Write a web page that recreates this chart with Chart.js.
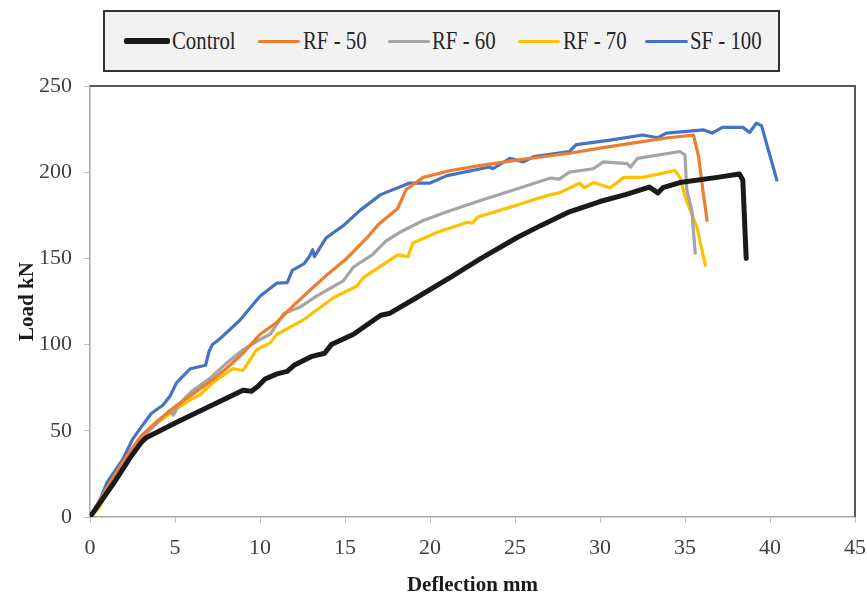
<!DOCTYPE html>
<html>
<head>
<meta charset="utf-8">
<script src="https://cdn.jsdelivr.net/npm/chart.js@4/dist/chart.umd.min.js"></script>
<style>
  html, body { margin: 0; padding: 0; background: #fff; }
  #wrap { position: relative; width: 867px; height: 602px; }
  #legend { position: absolute; left: 103px; top: 10px; width: 673px; height: 58px;
            border: 2px solid #333; background: #f2f2f2; }
  .ln { position: absolute; border-radius: 2px; }
  .tx { position: absolute; font-family: "Liberation Serif", serif; font-size: 26px; color: #262626;
        transform: scaleX(0.8); transform-origin: left center; white-space: nowrap; line-height: 30px; }
</style>
</head>
<body>
<div id="wrap">
  <canvas id="c" width="867" height="602"></canvas>
  <div id="legend"></div>
</div>
<script>
// ---- data (deflection mm, load kN) ----
const seriesNames = ["Control", "RF - 50", "RF - 60", "RF - 70", "SF - 100"];
const xTicks = [0, 5, 10, 15, 20, 25, 30, 35, 40, 45];
const yTicks = [0, 50, 100, 150, 200, 250];

const controlX = [0, 1.4, 2.4, 3.0, 3.3, 5.1, 7.2, 9.0, 9.5, 9.9, 10.3, 11.0, 11.6, 12.0, 13.0, 13.8, 14.2, 15.5, 17.1, 17.6, 19.0, 21.2, 23.0, 25.1, 26.5, 28.2, 30.0, 31.5, 32.9, 33.4, 33.7, 34.7, 36.9, 38.2, 38.4, 38.6];
const controlY = [0, 19.7, 35, 43, 46, 55, 65, 73.5, 73, 76, 80, 83, 84.5, 88, 93, 95, 100, 106, 117, 118, 126, 139, 150, 162, 169, 177, 183, 187, 191.4, 188, 191, 194, 197, 199, 195.5, 150];

const rf50X = [0, 1, 2, 3, 4, 5, 6, 7, 8, 9, 10, 11, 11.9, 13.1, 14, 15.1, 16.3, 17, 18.1, 18.6, 19.6, 21.2, 23, 25.1, 28.2, 30, 32, 34, 35.5, 35.8, 36.1, 36.3];
const rf50Y = [0, 17, 33, 47, 56, 64, 71, 78, 86, 95, 106, 113, 122, 133, 141, 150, 162, 170, 179, 190, 197, 201, 204, 207, 211, 214, 217, 220, 221.5, 209, 186, 172];

const rf60X = [0, 1, 2, 3, 4, 4.7, 4.9, 5.2, 6, 7, 8, 9, 10, 10.6, 11.4, 12.4, 13.3, 14.9, 15.5, 16.6, 17.4, 18.2, 19.6, 21, 23.1, 25, 27.1, 27.6, 28.2, 29.6, 30.2, 31.6, 31.8, 32.2, 34.7, 35.0, 35.1, 35.4, 35.6];
const rf60Y = [0, 17, 32, 46, 55, 62, 59, 65, 73, 80, 89, 97, 103, 106, 118, 122, 128, 137, 145, 152, 160, 165, 172, 177, 184, 190, 196.6, 196, 200, 202, 206, 205, 203, 208, 212, 210, 190, 178, 153];

const rf70X = [0, 0.5, 1, 2, 3, 4, 5, 5.9, 6.5, 6.9, 7.5, 8.4, 9.0, 9.8, 10.6, 11.0, 12.5, 14.3, 15.7, 16.1, 18.1, 18.7, 19.0, 20.4, 22.2, 22.5, 22.8, 24.5, 26.1, 27.1, 27.6, 28.8, 29.1, 29.6, 30.6, 31.4, 32.5, 33.5, 34.4, 34.7, 35.0, 35.7, 36.2];
const rf70Y = [0, 5, 14, 30, 45, 55, 62, 68, 71, 75, 80, 86, 85, 97, 101, 106, 114, 127, 134, 139, 152, 151, 159, 165, 171, 170.5, 174, 179, 184, 187, 188, 193.6, 191, 194, 191, 197, 197, 199, 201, 197, 186, 168, 146];

const sf100X = [0, 0.5, 1, 1.9, 2.5, 3, 3.6, 4.3, 4.7, 5.1, 5.9, 6.8, 7.0, 7.2, 7.6, 8.8, 10, 11, 11.6, 11.9, 12.6, 12.9, 13.1, 13.2, 13.9, 14.9, 15.9, 17.1, 18.8, 20, 21, 23.5, 23.7, 24.7, 25.5, 26.1, 28.2, 28.6, 30.5, 32.5, 33.4, 33.9, 36.1, 36.6, 37.2, 38.4, 38.8, 39.2, 39.5, 39.9, 40.4];
const sf100Y = [0, 8, 20, 33, 45, 52, 60, 65, 70, 78, 86, 88, 96, 100, 103, 114, 128, 135.7, 136, 143, 147, 151, 155, 151, 162, 169, 178, 187, 193.7, 193.7, 198, 203, 202, 208, 206, 209, 212, 216, 218.5, 221.6, 220, 222.7, 224.5, 222.7, 226, 226, 223, 228.5, 227, 213, 195.5];

const seriesColors = ["#1a1a1a", "#ED7D31", "#A5A5A5", "#FFC000", "#4472C4"];
const seriesWidths = [5, 3.2, 3.2, 3.2, 3.2];

const toPts = (xs, ys) => xs.map((x, i) => ({x: x, y: ys[i]}));
const allX = [controlX, rf50X, rf60X, rf70X, sf100X];
const allY = [controlY, rf50Y, rf60Y, rf70Y, sf100Y];

// ---- legend (HTML) ----
const legendPos = [[124, 170, 172], [258, 300, 303], [388, 430, 432], [518, 560, 563], [645, 688, 690]];
const lg = document.getElementById('legend');
seriesNames.forEach((n, i) => {
  const [l0, l1, t0] = legendPos[i];
  const ln = document.createElement('div');
  ln.className = 'ln';
  const w = Math.round(seriesWidths[i]) + (i === 0 ? 1 : 0);
  ln.style.left = (l0 - 105) + 'px';
  ln.style.width = (l1 - l0) + 'px';
  ln.style.top = (41 - 12 - w / 2) + 'px';
  ln.style.height = w + 'px';
  ln.style.background = seriesColors[i];
  lg.appendChild(ln);
  const tx = document.createElement('div');
  tx.className = 'tx';
  tx.style.left = (t0 - 105) + 'px';
  tx.style.top = (41 - 12 - 15) + 'px';
  tx.textContent = n;
  lg.appendChild(tx);
});

// ---- frame plugin (top & right border) ----
const frame = {
  id: 'frame',
  afterDraw(chart) {
    const {ctx, chartArea: a} = chart;
    ctx.save();
    ctx.strokeStyle = '#595959';
    ctx.lineWidth = 2;
    ctx.beginPath();
    ctx.moveTo(a.left, a.top);
    ctx.lineTo(a.right, a.top);
    ctx.lineTo(a.right, a.bottom);
    ctx.stroke();
    ctx.restore();
  }
};

const tickFont = {family: "Liberation Serif", size: 22};
const titleFont = {family: "Liberation Serif", size: 21, weight: 'bold'};

new Chart(document.getElementById('c'), {
  type: 'scatter',
  data: {
    datasets: seriesNames.map((n, i) => ({
      label: n,
      data: toPts(allX[i], allY[i]),
      showLine: true,
      borderColor: seriesColors[i],
      backgroundColor: seriesColors[i],
      borderWidth: seriesWidths[i],
      pointRadius: 0,
      tension: 0,
      borderJoinStyle: 'round',
      borderCapStyle: 'round'
    }))
  },
  options: {
    responsive: false,
    animation: false,
    layout: {padding: {top: 86, right: 0, left: 0, bottom: 0}},
    plugins: {legend: {display: false}, tooltip: {enabled: false}},
    scales: {
      x: {
        type: 'linear', min: 0, max: 45,
        afterBuildTicks: s => { s.ticks = xTicks.map(v => ({value: v})); },
        afterFit: s => { s.height = 85; s.paddingRight = 12; s.paddingLeft = 0; },
        ticks: {font: tickFont, color: '#404040', padding: 12},
        grid: {drawOnChartArea: false, drawTicks: true, tickLength: 6, color: '#bfbfbf'},
        border: {color: '#a6a6a6', width: 1.5},
        title: {display: true, text: 'Deflection mm', font: titleFont, color: '#1a1a1a', padding: {top: 4, bottom: 4}}
      },
      y: {
        min: 0, max: 250,
        afterBuildTicks: s => { s.ticks = yTicks.map(v => ({value: v})); },
        afterFit: s => { s.width = 90; s.paddingTop = 0; s.paddingBottom = 0; },
        ticks: {font: tickFont, color: '#404040', padding: 12},
        grid: {drawOnChartArea: false, drawTicks: true, tickLength: 6, color: '#bfbfbf'},
        border: {color: '#a6a6a6', width: 1.5},
        title: {display: true, text: 'Load kN', font: titleFont, color: '#1a1a1a', padding: {top: 15, bottom: 4}}
      }
    }
  },
  plugins: [frame]
});
</script>
</body>
</html>
